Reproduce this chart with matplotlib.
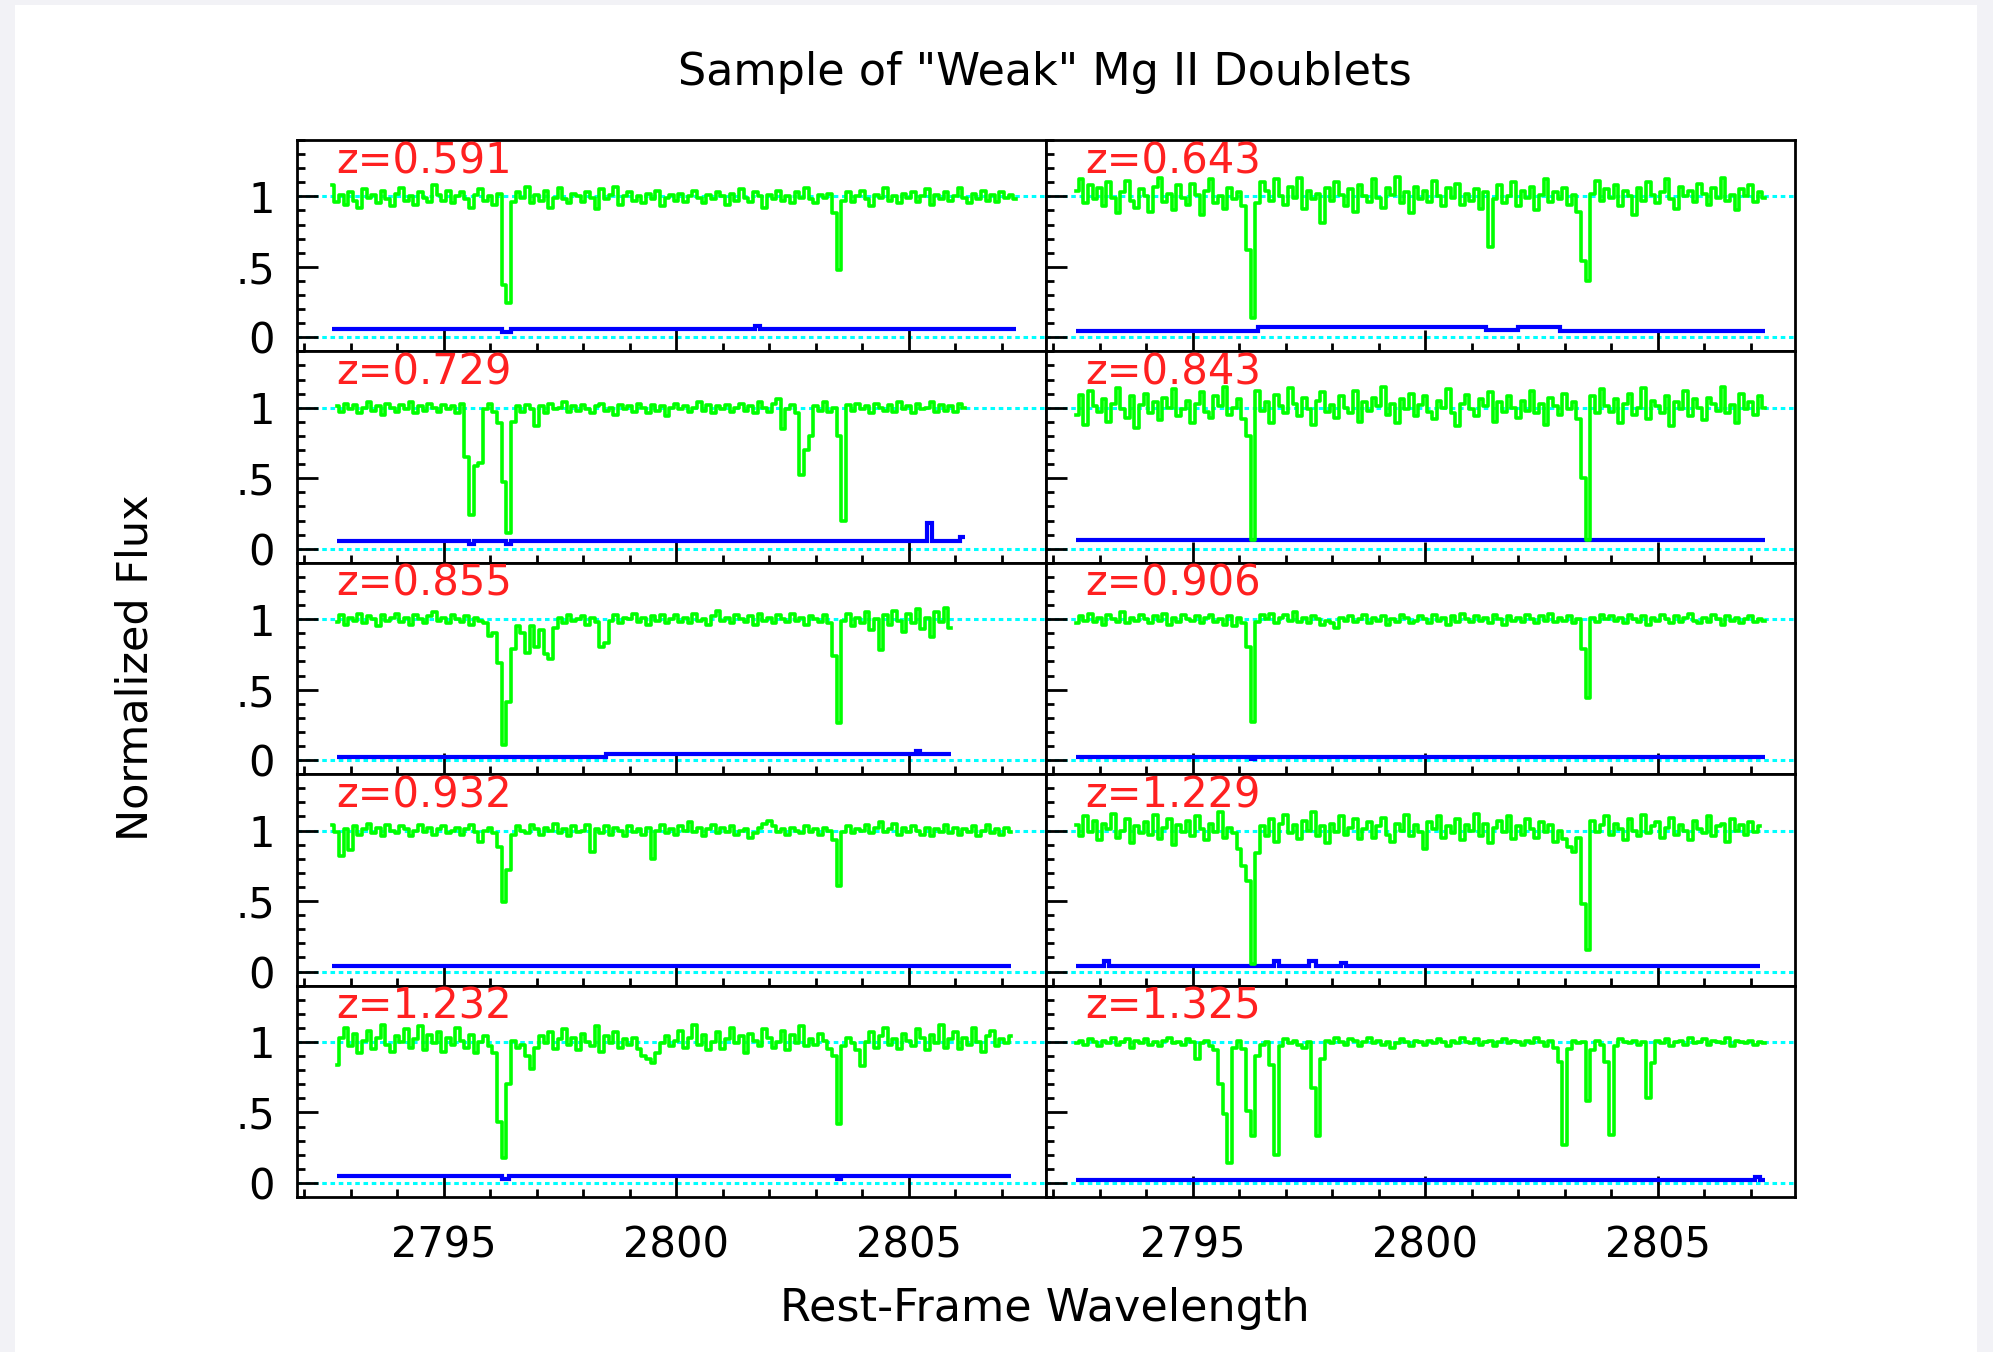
import numpy as np
import matplotlib
matplotlib.use('Agg')
import matplotlib.pyplot as plt
from matplotlib.patches import Rectangle
from matplotlib.ticker import MultipleLocator, FixedLocator, FixedFormatter

# redshift of each system, panels in reading order (left, right, next row ...)
redshifts = ['0.591', '0.643', '0.729', '0.843', '0.855',
             '0.906', '0.932', '1.229', '1.232', '1.325']
# first wavelength of each spectrum, pixels every 0.1 A
starts = [2792.6, 2792.5, 2792.7, 2792.5, 2792.7,
          2792.5, 2792.6, 2792.5, 2792.7, 2792.5]
step = 0.1

# normalized flux in percent, one row per Angstrom
flux_0591 = [108, 96, 101, 94,
             103, 97, 92, 105, 99, 101, 95, 104, 98, 93,
             102, 106, 97, 100, 94, 103, 99, 96, 108, 101,
             97, 104, 95, 100, 103, 98, 92, 101, 105, 97,
             100, 94, 102, 37, 24, 96, 103, 99, 107, 95,
             101, 97, 104, 92, 99, 106, 98, 95, 102, 100,
             96, 103, 99, 91, 105, 98, 101, 107, 94, 100,
             103, 97, 100, 95, 102, 98, 104, 93, 99, 101,
             97, 102, 96, 100, 104, 99, 95, 101, 98, 103,
             100, 94, 102, 97, 105, 99, 96, 103, 100, 92,
             101, 98, 104, 97, 100, 95, 103, 99, 106, 98,
             95, 101, 99, 102, 88, 48, 97, 103, 96, 100,
             104, 98, 93, 101, 99, 106, 97, 100, 95, 102,
             99, 103, 96, 100, 105, 94, 101, 98, 103, 97,
             100, 106, 99, 95, 102, 98, 104, 97, 101, 96,
             103, 99, 101, 98]
flux_0643 = [104, 112, 95, 108, 98,
             106, 93, 110, 99, 88, 103, 111, 97, 92, 105,
             100, 89, 107, 113, 96, 102, 90, 108, 99, 94,
             109, 101, 87, 104, 112, 95, 100, 91, 106, 98,
             103, 93, 62, 14, 95, 110, 104, 97, 112, 100,
             94, 107, 99, 113, 91, 104, 98, 102, 81, 106,
             97, 110, 101, 93, 105, 89, 108, 100, 96, 112,
             99, 92, 106, 101, 114, 95, 103, 88, 107, 98,
             104, 96, 111, 100, 93, 106, 99, 109, 94, 102,
             97, 105, 91, 103, 64, 98, 108, 95, 100, 110,
             93, 104, 99, 107, 90, 101, 112, 96, 103, 98,
             106, 94, 101, 89, 54, 40, 102, 111, 97, 105,
             99, 108, 93, 104, 100, 87, 106, 97, 110, 101,
             95, 103, 112, 98, 91, 107, 100, 104, 96, 109,
             102, 94, 106, 99, 113, 97, 101, 90, 105, 100,
             108, 96, 103, 99]
flux_0729 = [101, 97, 103,
             99, 102, 96, 100, 104, 98, 101, 95, 103, 100,
             97, 102, 99, 104, 96, 101, 98, 103, 100, 97,
             102, 99, 101, 96, 103, 65, 24, 59, 61, 99,
             103, 97, 89, 47, 11, 90, 101, 97, 102, 99,
             87, 101, 96, 103, 99, 100, 104, 97, 101, 98,
             102, 99, 96, 101, 103, 98, 100, 95, 102, 99,
             101, 97, 103, 100, 96, 102, 98, 101, 94, 100,
             103, 99, 101, 97, 100, 104, 98, 102, 96, 101,
             99, 102, 97, 100, 103, 98, 101, 96, 104, 100,
             97, 103, 106, 85, 99, 102, 96, 52, 70, 80,
             101, 98, 104, 97, 100, 80, 20, 102, 98, 103,
             99, 101, 96, 103, 100, 98, 102, 97, 104, 99,
             101, 96, 103, 99, 100, 104, 97, 102, 98, 101,
             97, 103, 100]
flux_0843 = [95, 109, 88, 112, 101,
             97, 106, 90, 103, 114, 99, 93, 108, 86, 102,
             110, 96, 104, 91, 107, 100, 113, 94, 99, 105,
             89, 103, 111, 97, 93, 108, 101, 115, 95, 100,
             106, 92, 80, 6, 112, 98, 104, 89, 109, 101,
             96, 114, 103, 94, 107, 99, 88, 105, 111, 97,
             102, 93, 108, 100, 96, 112, 90, 104, 98, 107,
             101, 115, 95, 103, 89, 106, 99, 110, 94, 102,
             108, 97, 92, 105, 100, 113, 96, 87, 103, 109,
             99, 94, 106, 101, 111, 90, 104, 97, 108, 100,
             93, 105, 98, 112, 96, 103, 88, 107, 101, 95,
             110, 99, 104, 92, 50, 6, 108, 96, 113, 101,
             97, 106, 89, 103, 110, 95, 100, 114, 92, 105,
             101, 96, 108, 87, 104, 99, 112, 94, 106, 100,
             91, 107, 103, 98, 115, 96, 102, 89, 110, 99,
             104, 95, 108, 100]
flux_0855 = [98, 103, 96,
             101, 99, 104, 97, 102, 100, 95, 103, 99, 101,
             104, 98, 101, 96, 103, 100, 97, 102, 105, 99,
             101, 97, 103, 100, 98, 102, 96, 101, 99, 97,
             88, 90, 69, 11, 41, 79, 95, 90, 76, 95,
             80, 92, 75, 72, 94, 101, 97, 103, 99, 100,
             102, 96, 101, 98, 80, 83, 99, 103, 97, 101,
             100, 104, 98, 101, 96, 102, 99, 103, 97, 100,
             103, 98, 101, 97, 104, 99, 100, 96, 102, 106,
             99, 101, 97, 103, 100, 98, 102, 96, 104, 99,
             101, 97, 103, 100, 98, 104, 99, 101, 96, 102,
             100, 98, 103, 97, 74, 26, 99, 104, 95, 101,
             97, 105, 92, 100, 78, 103, 96, 106, 99, 91,
             104, 97, 107, 93, 101, 87, 105, 98, 108, 94]
flux_0906 = [97, 102, 99, 104, 98,
             101, 96, 103, 100, 98, 105, 97, 101, 99, 103,
             100, 97, 102, 99, 104, 96, 101, 98, 103, 100,
             99, 102, 97, 101, 103, 98, 100, 96, 102, 95,
             101, 97, 80, 27, 98, 103, 100, 104, 97, 101,
             103, 99, 105, 98, 101, 97, 102, 100, 96, 99,
             97, 94, 101, 99, 102, 98, 100, 103, 97, 101,
             99, 102, 96, 100, 98, 103, 101, 97, 99, 102,
             100, 97, 103, 99, 101, 96, 102, 98, 104, 100,
             98, 102, 99, 101, 97, 103, 100, 96, 102, 99,
             101, 98, 103, 100, 97, 102, 99, 104, 98, 101,
             99, 102, 97, 100, 79, 44, 101, 98, 103, 100,
             102, 99, 101, 97, 103, 100, 98, 102, 96, 101,
             99, 103, 100, 97, 102, 98, 101, 104, 99, 97,
             101, 98, 103, 100, 96, 102, 99, 101, 97, 100,
             102, 98, 100, 99]
flux_0932 = [104, 99, 82, 101,
             86, 103, 97, 101, 105, 98, 102, 96, 104, 100,
             98, 103, 101, 96, 100, 104, 99, 102, 97, 101,
             103, 98, 100, 102, 97, 101, 104, 99, 92, 100,
             102, 98, 88, 49, 72, 97, 103, 100, 98, 104,
             101, 97, 102, 100, 105, 98, 101, 96, 103, 99,
             100, 104, 85, 101, 98, 103, 97, 102, 100, 96,
             103, 99, 101, 97, 102, 80, 100, 104, 98, 101,
             97, 103, 100, 106, 99, 102, 96, 101, 104, 98,
             102, 99, 103, 97, 100, 101, 95, 98, 102, 105,
             107, 103, 99, 101, 97, 102, 100, 98, 103, 99,
             101, 97, 102, 100, 93, 61, 99, 103, 98, 101,
             100, 104, 98, 102, 106, 99, 101, 105, 97, 102,
             99, 103, 100, 97, 102, 96, 101, 99, 104, 98,
             102, 97, 101, 99, 103, 96, 100, 104, 98, 101,
             97, 102, 99]
flux_1229 = [104, 96, 110, 99, 107,
             93, 105, 101, 112, 95, 100, 108, 91, 103, 98,
             106, 97, 111, 94, 102, 108, 90, 104, 99, 107,
             96, 110, 101, 93, 105, 99, 113, 95, 102, 98,
             87, 75, 64, 5, 84, 103, 96, 108, 92, 105,
             111, 98, 104, 94, 107, 100, 113, 96, 103, 91,
             105, 99, 110, 97, 102, 108, 94, 101, 106, 95,
             103, 109, 97, 92, 105, 100, 111, 96, 104, 99,
             87, 106, 101, 110, 95, 103, 98, 108, 93, 104,
             100, 112, 96, 105, 91, 102, 107, 99, 110, 94,
             103, 97, 108, 101, 95, 106, 99, 104, 92, 100,
             94, 88, 85, 95, 48, 15, 107, 99, 104, 110,
             97, 105, 101, 93, 108, 100, 96, 111, 98, 103,
             106, 95, 102, 109, 97, 104, 100, 93, 107, 101,
             98, 110, 96, 103, 105, 92, 108, 100, 104, 97,
             106, 99, 103]
flux_1232 = [84, 103, 110,
             97, 106, 92, 101, 108, 95, 103, 112, 98, 93,
             104, 100, 109, 96, 102, 111, 94, 105, 99, 107,
             93, 103, 98, 110, 101, 96, 105, 92, 100, 104,
             97, 92, 43, 18, 70, 101, 96, 98, 90, 81,
             96, 104, 99, 107, 95, 102, 109, 98, 103, 94,
             106, 100, 97, 111, 93, 104, 99, 107, 96, 102,
             98, 103, 95, 90, 88, 85, 92, 99, 104, 97,
             101, 108, 96, 103, 112, 98, 105, 94, 100, 107,
             95, 102, 110, 99, 104, 92, 106, 101, 97, 109,
             103, 96, 100, 108, 94, 105, 99, 111, 97, 102,
             98, 106, 101, 95, 90, 42, 97, 103, 99, 94,
             83, 100, 107, 96, 104, 110, 98, 102, 95, 106,
             101, 97, 109, 103, 94, 105, 99, 112, 96, 102,
             107, 95, 103, 98, 110, 100, 93, 104, 108, 97,
             102, 99, 104]
flux_1325 = [99, 101, 98, 102, 100,
             97, 101, 99, 103, 98, 100, 102, 96, 101, 99,
             102, 98, 100, 97, 101, 103, 99, 100, 98, 102,
             100, 88, 99, 101, 97, 94, 70, 49, 14, 96,
             101, 95, 51, 33, 90, 98, 100, 84, 20, 97,
             102, 99, 101, 98, 96, 100, 67, 33, 88, 101,
             99, 103, 100, 98, 102, 101, 97, 100, 103, 99,
             101, 98, 100, 96, 99, 102, 100, 97, 101, 100,
             98, 101, 99, 102, 100, 97, 101, 99, 103, 100,
             99, 102, 98, 100, 101, 97, 100, 102, 99, 101,
             100, 98, 101, 99, 103, 100, 97, 101, 96, 86,
             27, 95, 101, 99, 100, 58, 94, 101, 98, 86,
             34, 97, 102, 100, 99, 101, 98, 100, 60, 85,
             101, 99, 102, 97, 100, 101, 98, 103, 99, 100,
             102, 98, 101, 100, 99, 103, 97, 101, 100, 99,
             101, 98, 100, 99]

# error spectra: bin edges and values
err_edges_0591 = [2792.6, 2796.25, 2796.45, 2801.7, 2801.8, 2807.3]
err_vals_0591 = [0.058, 0.035, 0.058, 0.08, 0.058]
err_edges_0643 = [2792.5, 2796.4, 2801.3, 2802.0, 2802.9, 2807.3]
err_vals_0643 = [0.047, 0.07, 0.055, 0.07, 0.047]
err_edges_0729 = [2792.7, 2795.55, 2795.65, 2796.35, 2796.45, 2805.4, 2805.5, 2806.1, 2806.2]
err_vals_0729 = [0.054, 0.03, 0.054, 0.03, 0.054, 0.18, 0.054, 0.08]
err_edges_0843 = [2792.5, 2807.3]
err_vals_0843 = [0.064]
err_edges_0855 = [2792.7, 2798.5, 2805.15, 2805.25, 2805.9]
err_vals_0855 = [0.022, 0.045, 0.065, 0.045]
err_edges_0906 = [2792.5, 2796.25, 2796.35, 2807.3]
err_vals_0906 = [0.024, 0.01, 0.024]
err_edges_0932 = [2792.6, 2807.2]
err_vals_0932 = [0.042]
err_edges_1229 = [2792.5, 2793.1, 2793.2, 2796.75, 2796.85, 2797.5, 2797.65, 2798.2, 2798.3, 2807.2]
err_vals_1229 = [0.042, 0.073, 0.042, 0.073, 0.042, 0.073, 0.042, 0.06, 0.042]
err_edges_1232 = [2792.7, 2796.25, 2796.4, 2803.45, 2803.55, 2807.2]
err_vals_1232 = [0.047, 0.03, 0.047, 0.03, 0.047]
err_edges_1325 = [2792.5, 2807.1, 2807.2, 2807.3]
err_vals_1325 = [0.018, 0.04, 0.018]

fluxes = [flux_0591, flux_0643, flux_0729, flux_0843, flux_0855,
          flux_0906, flux_0932, flux_1229, flux_1232, flux_1325]
err_edges = [err_edges_0591, err_edges_0643, err_edges_0729, err_edges_0843, err_edges_0855,
             err_edges_0906, err_edges_0932, err_edges_1229, err_edges_1232, err_edges_1325]
err_vals = [err_vals_0591, err_vals_0643, err_vals_0729, err_vals_0843, err_vals_0855,
            err_vals_0906, err_vals_0932, err_vals_1229, err_vals_1232, err_vals_1325]

x_ticks = [2795, 2800, 2805]
y_ticks = [0, 0.5, 1]
y_ticklabels = ['0', '.5', '1']

plt.rcParams['font.family'] = ['DejaVu Sans']

W, H = 1993, 1352
fig, axes = plt.subplots(5, 2, figsize=(W / 100, H / 100), dpi=100, sharex=True, sharey=True)
fig.patch.set_facecolor('#f2f2f6')
fig.patches.append(Rectangle((15 / W, 0), 1962 / W, 1347 / H, transform=fig.transFigure,
                             facecolor='white', edgecolor='none', zorder=-10))
fig.subplots_adjust(left=297 / W, right=1795 / W, bottom=1 - 1197 / H, top=1 - 140 / H,
                    hspace=0, wspace=0)

for i, ax in enumerate(axes.flat):
    flux = np.array(fluxes[i]) / 100.0
    wave = np.round(starts[i] + step * np.arange(len(flux)), 2)

    ax.axhline(1, color='#00ffff', lw=2.2, ls=(0, (1.5, 1.2)), zorder=1)
    ax.axhline(0, color='#00ffff', lw=2.2, ls=(0, (1.5, 1.2)), zorder=1)
    ax.plot(wave, flux, color='#00ff00', lw=2.6, drawstyle='steps-mid', zorder=3)
    ax.stairs(err_vals[i], err_edges[i], color='#0000ff', lw=3, baseline=None, zorder=2)

    ax.text(2792.7, 1.40, 'z=' + redshifts[i], color='#ff2020', fontsize=30,
            ha='left', va='top', zorder=4)

    ax.set_xlim(2791.85, 2807.95)
    ax.set_ylim(-0.1, 1.4)
    ax.xaxis.set_major_locator(FixedLocator(x_ticks))
    ax.xaxis.set_minor_locator(MultipleLocator(1))
    ax.yaxis.set_major_locator(FixedLocator(y_ticks))
    ax.yaxis.set_major_formatter(FixedFormatter(y_ticklabels))
    ax.yaxis.set_minor_locator(MultipleLocator(0.1))
    ax.tick_params(which='both', direction='in', top=False, right=False, width=2,
                   labelsize=30, colors='black')
    ax.tick_params(which='major', length=15)
    ax.tick_params(which='minor', length=6)
    ax.tick_params(axis='x', pad=20)
    ax.tick_params(axis='y', pad=16)
    for s in ax.spines.values():
        s.set_linewidth(2)

fig.text(1045 / W, 1 - 72 / H, 'Sample of "Weak" Mg II Doublets', ha='center', va='center',
         fontsize=32)
fig.text(1045 / W, 1 - 1309 / H, 'Rest-Frame Wavelength', ha='center', va='center',
         fontsize=32)
fig.text(136 / W, 1 - 668 / H, 'Normalized Flux', ha='center', va='center',
         rotation=90, fontsize=31)

fig.savefig('out.png', dpi=100, facecolor=fig.get_facecolor())
